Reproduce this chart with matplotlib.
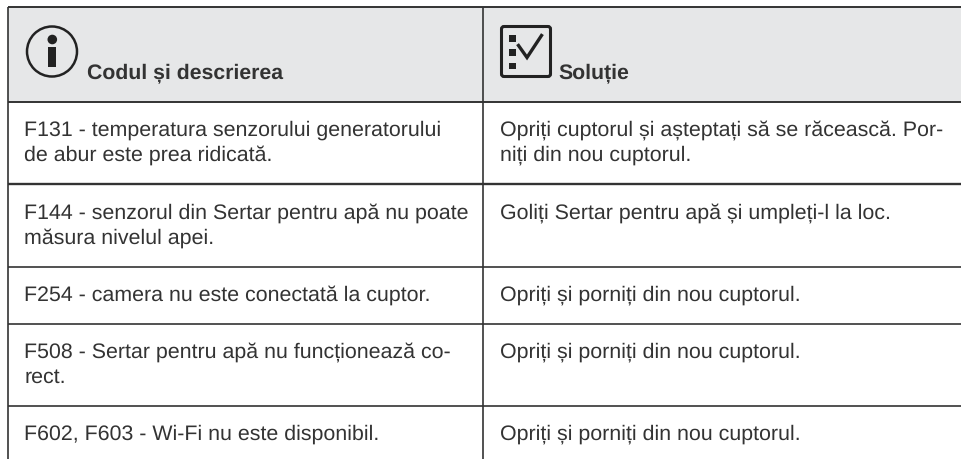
import matplotlib
matplotlib.use("Agg")
import matplotlib.pyplot as plt
from matplotlib.patches import Circle, FancyBboxPatch, Rectangle

plt.rcParams["text.hinting"] = "no_hinting"
plt.rcParams["text.hinting_factor"] = 8

FONT = ["Liberation Sans", "DejaVu Sans"]
INK = "#333333"
HEAD_FILL = "#e6e7e8"

headers = ["Codul și descrierea", "Soluție"]
codes = [
    ["F131 - temperatura senzorului generatorului", "de abur este prea ridicată."],
    ["F144 - senzorul din Sertar pentru apă nu poate", "măsura nivelul apei."],
    ["F254 - camera nu este conectată la cuptor."],
    ["F508 - Sertar pentru apă nu funcționează co-", "rect."],
    ["F602, F603 - Wi-Fi nu este disponibil."],
]
solutions = [
    ["Opriți cuptorul și așteptați să se răcească. Por-", "niți din nou cuptorul."],
    ["Goliți Sertar pentru apă și umpleți-l la loc."],
    ["Opriți și porniți din nou cuptorul."],
    ["Opriți și porniți din nou cuptorul."],
    ["Opriți și porniți din nou cuptorul."],
]

W, H = 962, 459
left, mid = 8, 483.5
top, head_bottom = 7, 101.5
rules = [184, 267, 324, 406]
rule_widths = [1.7, 1.2, 1.2, 1.2]
first_baseline = [136, 218.5, 301, 358, 440]
line_gap = 25
col_x = [24.5, 500]

fig = plt.figure(figsize=(W / 100, H / 100), dpi=100)
ax = fig.add_axes([0, 0, 1, 1])
ax.set_xlim(0, W)
ax.set_ylim(H, 0)
ax.axis("off")

ax.add_patch(Rectangle((left, top), W - left, head_bottom - top, fc=HEAD_FILL, ec="none", zorder=0))

line_color = "#333333"
for y, lw in zip([top, head_bottom] + rules, [1.4, 1.4] + rule_widths):
    ax.plot([left, W], [y, y], color=line_color, lw=lw, solid_capstyle="butt")
for x in (left, mid):
    ax.plot([x, x], [top, H], color=line_color, lw=1.2, solid_capstyle="butt")

for row, (c, s) in enumerate(zip(codes, solutions)):
    for lines, x in ((c, col_x[0]), (s, col_x[1])):
        for i, t in enumerate(lines):
            ax.text(x, first_baseline[row] + i * line_gap, t, family=FONT, fontsize=15.4,
                    color=INK, va="baseline", ha="left")

ax.text(87, 78, headers[0], family=FONT, fontsize=15.3, fontweight="bold", color=INK, va="baseline")
ax.text(558, 78, headers[1], family=FONT, fontsize=15.3, fontweight="bold", color=INK, va="baseline")

# info icon
ax.add_patch(Circle((52, 51.5), 25, fc="none", ec="#222222", lw=1.8))
ax.add_patch(Circle((52.3, 39.5), 4.8, fc="#222222", ec="none"))
ax.add_patch(Rectangle((48, 47), 8.5, 20, fc="#222222", ec="none"))

# solution icon
ax.add_patch(FancyBboxPatch((501.5, 26.5), 49, 50, boxstyle="round,pad=0,rounding_size=2.5",
                            fc="none", ec="#222222", lw=2.2))
for y0, y1 in ((35, 42), (49, 55.5), (63, 69)):
    ax.add_patch(Rectangle((509.5, y0), 6.5, y1 - y0, fc="#222222", ec="none"))
ax.plot([518.5, 527, 541.5], [45.5, 57.5, 35.5], color="#222222", lw=2.4, solid_joinstyle="miter")

fig.savefig("out.png", dpi=100)
